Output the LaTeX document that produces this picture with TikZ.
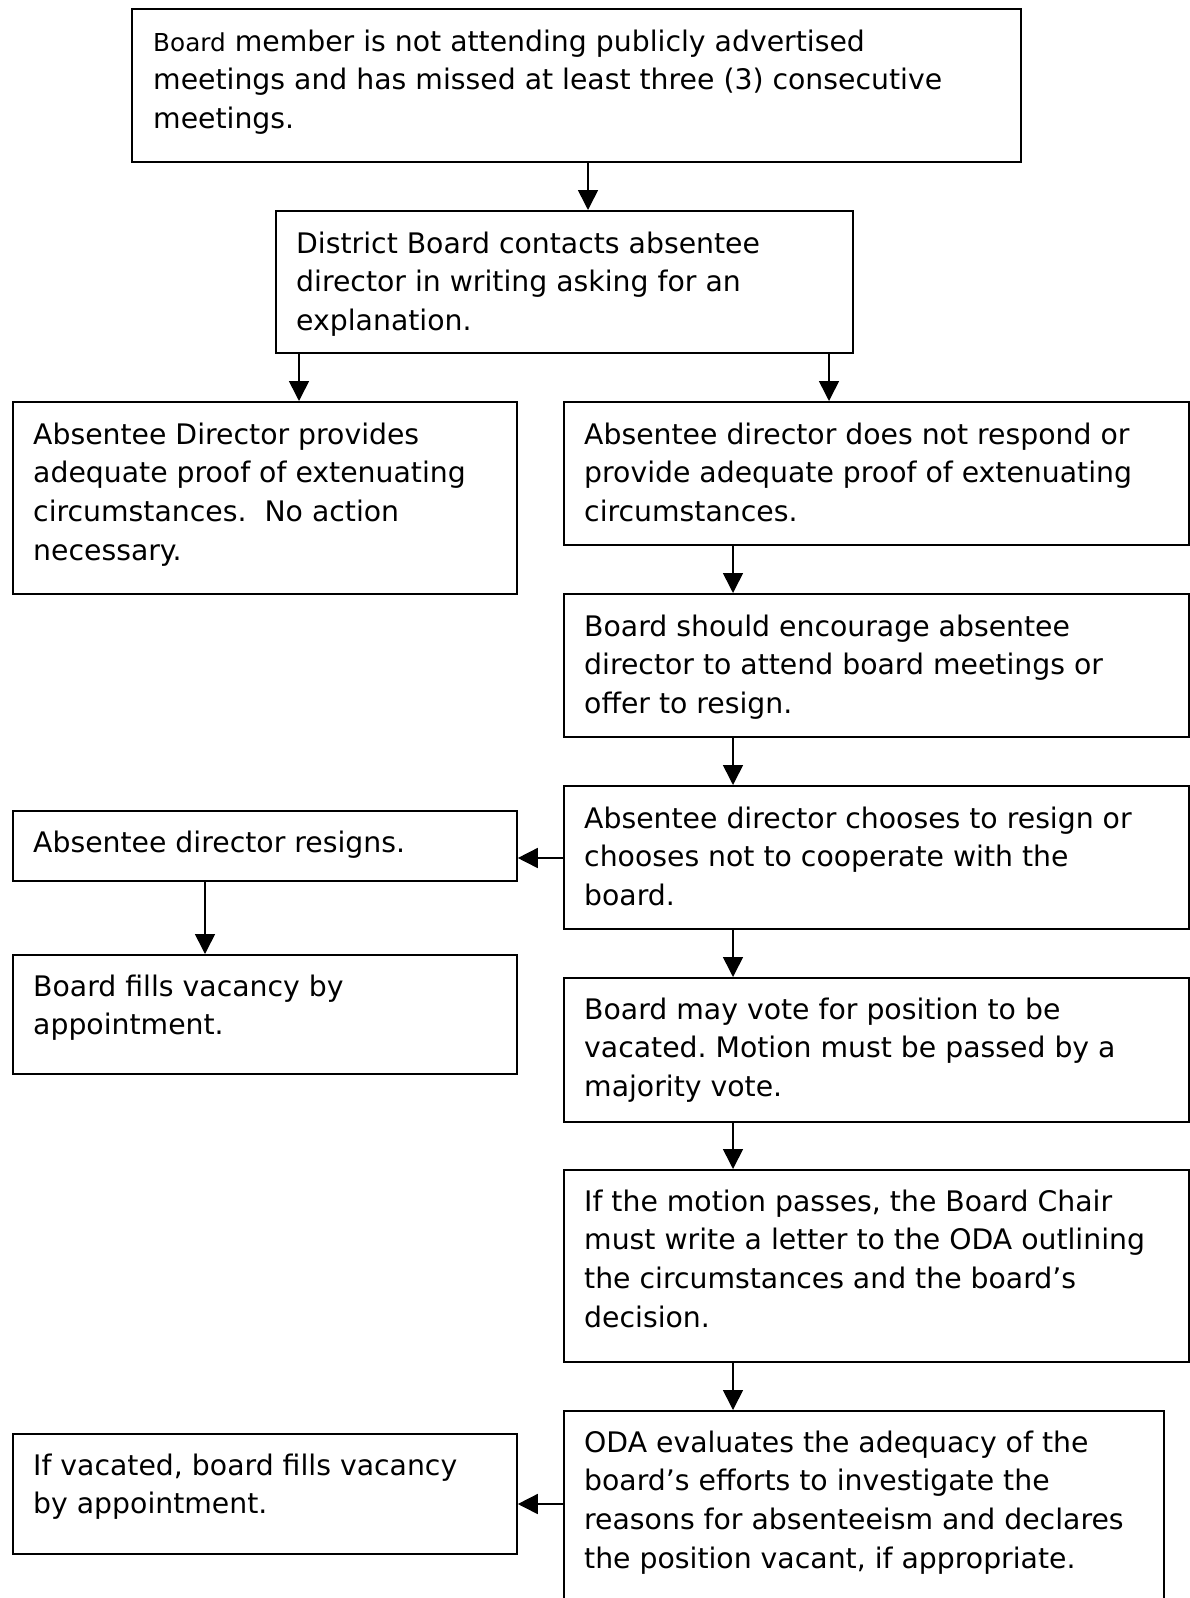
\documentclass[tikz,border=0pt]{standalone}
\usepackage{fontspec}
\setmainfont{DejaVu Sans}
\usetikzlibrary{arrows.meta,calc}
\tikzset{
  box/.style={draw=black, line width=1.8pt, rectangle, inner sep=0pt, anchor=north west},
  txt/.style={anchor=north west, inner sep=0pt, align=left,
    font=\fontsize{28.3pt}{38.7pt}\selectfont\frenchspacing},
  arr/.style={line width=1.6pt, -{Triangle[length=20pt,width=20pt]}},
}
\newcommand{\fl}{\rule{0pt}{43pt}}
\begin{document}
\begin{tikzpicture}[x=1pt,y=-1pt]
\useasboundingbox (0,0) rectangle (1190,1598);
\clip (0,0) rectangle (1190,1598);
\fill[white] (0,0) rectangle (1190,1598);
% boxes
\node[box, minimum width=889pt, minimum height=153pt] (b1) at (131,8) {};
\node[box, minimum width=577pt, minimum height=142pt] (b2) at (275,210) {};
\node[box, minimum width=504pt, minimum height=192pt] (b3) at (12,401) {};
\node[box, minimum width=625pt, minimum height=143pt] (b4) at (563,401) {};
\node[box, minimum width=625pt, minimum height=143pt] (b5) at (563,593) {};
\node[box, minimum width=625pt, minimum height=143pt] (b6) at (563,785) {};
\node[box, minimum width=504pt, minimum height=70pt] (b6l) at (12,810) {};
\node[box, minimum width=504pt, minimum height=119pt] (b7l) at (12,954) {};
\node[box, minimum width=625pt, minimum height=144pt] (b7) at (563,977) {};
\node[box, minimum width=625pt, minimum height=192pt] (b8) at (563,1169) {};
\node[box, minimum width=600pt, minimum height=230pt] (b9) at (563,1410) {};
\node[box, minimum width=504pt, minimum height=120pt] (b9l) at (12,1433) {};
% texts
\node[txt] (t1) at ($(b1.north west)+(22,0)$) {\fl{\fontsize{24.7pt}{38.7pt}\selectfont Board} member is not attending publicly advertised\\meetings and has missed at least three (3) consecutive\\meetings.};
\node[txt] (t2) at ($(b2.north west)+(21,0)$) {\fl District Board contacts absentee\\director in writing asking for an\\explanation.};
\node[txt] (t3) at ($(b3.north west)+(21,0)$) {\fl Absentee Director provides\\adequate proof of extenuating\\circumstances.\ \ No action\\necessary.};
\node[txt] (t4) at ($(b4.north west)+(21,0)$) {\fl Absentee director does not respond or\\provide adequate proof of extenuating\\circumstances.};
\node[txt] (t5) at ($(b5.north west)+(21,0)$) {\fl Board should encourage absentee\\director to attend board meetings or\\offer to resign.};
\node[txt] (t6) at ($(b6.north west)+(21,0)$) {\fl Absentee director chooses to resign or\\chooses not to cooperate with the\\board.};
\node[txt] (t6l) at ($(b6l.north west)+(21,-1)$) {\fl Absentee director resigns.};
\node[txt] (t7l) at ($(b7l.north west)+(21,-1)$) {\fl Board fills vacancy by\\appointment.};
\node[txt] (t7) at ($(b7.north west)+(21,-1)$) {\fl Board may vote for position to be\\vacated. Motion must be passed by a\\majority vote.};
\node[txt] (t8) at ($(b8.north west)+(21,-1)$) {\fl If the motion passes, the Board Chair\\must write a letter to the ODA outlining\\the circumstances and the board’s\\decision.};
\node[txt] (t9) at ($(b9.north west)+(21,-1)$) {\fl ODA evaluates the adequacy of the\\board’s efforts to investigate the\\reasons for absenteeism and declares\\the position vacant, if appropriate.};
\node[txt] (t9l) at ($(b9l.north west)+(21,-1)$) {\fl If vacated, board fills vacancy\\by appointment.};
% connectors
\draw[arr] (b1.south -| 588,0) -- (b2.north -| 588,0);
\draw[arr] (b2.south -| 299,0) -- (b3.north -| 299,0);
\draw[arr] (b2.south -| 829,0) -- (b4.north -| 829,0);
\draw[arr] (b4.south -| 733,0) -- (b5.north -| 733,0);
\draw[arr] (b5.south -| 733,0) -- (b6.north -| 733,0);
\draw[arr] (b6.west |- 0,858) -- (b6l.east |- 0,858);
\draw[arr] (b6l.south -| 205,0) -- (b7l.north -| 205,0);
\draw[arr] (b6.south -| 733,0) -- (b7.north -| 733,0);
\draw[arr] (b7.south -| 733,0) -- (b8.north -| 733,0);
\draw[arr] (b8.south -| 733,0) -- (b9.north -| 733,0);
\draw[arr] (b9.west |- 0,1504) -- (b9l.east |- 0,1504);
\end{tikzpicture}
\end{document}
